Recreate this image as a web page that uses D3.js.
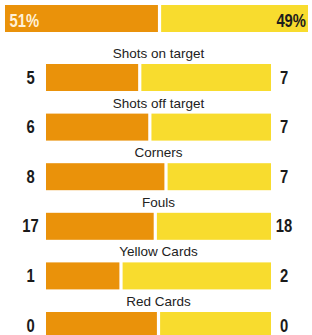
<!DOCTYPE html>
<html>
<head>
<meta charset="utf-8">
<script src="https://cdn.jsdelivr.net/npm/d3@7/dist/d3.min.js"></script>
<style>
  html, body { margin: 0; padding: 0; background: #ffffff; }
  svg { display: block; }
</style>
</head>
<body>
<script>
// ---- data ----
const possessionLabels = ["51%", "49%"];
const possession = [51, 49];
const categories = ["Shots on target", "Shots off target", "Corners", "Fouls", "Yellow Cards", "Red Cards"];
const homeValues = [5, 6, 8, 17, 1, 0];
const awayValues = [7, 7, 7, 18, 2, 0];

// ---- layout ----
const W = 312, H = 335;
const orange = "#EA920A", yellow = "#F8DC2E";
const numFont = "'Liberation Sans', Arial, sans-serif";
const lblFont = "'Liberation Sans', Arial, Helvetica, sans-serif";
const gap = 1.6;
const narrow = 0.8;

const svg = d3.select("body").append("svg").attr("width", W).attr("height", H);

function numText(parent, cx, by, anchor, fill, size) {
  return parent.append("g").attr("transform", `translate(${cx},${by}) scale(${narrow},1)`)
    .append("text").attr("x", 0).attr("y", 0).attr("text-anchor", anchor)
    .attr("font-family", numFont).attr("font-weight", "bold").attr("font-size", size).attr("fill", fill);
}

// possession bar
const px = d3.scaleLinear().domain([0, 100]).range([5, 308]);
const pTop = 5, pH = 27;
const pSplit = px(possession[0]);
svg.append("rect").attr("x", px(0)).attr("y", pTop).attr("width", pSplit - gap - px(0)).attr("height", pH).attr("fill", orange);
svg.append("rect").attr("x", pSplit + gap).attr("y", pTop).attr("width", px(100) - pSplit - gap).attr("height", pH).attr("fill", yellow);
numText(svg, 9.5, pTop + 21.5, "start", "#FFF1D8", 18.5).text(possessionLabels[0]);
numText(svg, 306, pTop + 21.5, "end", "#1d1d1d", 18.5).text(possessionLabels[1]);

// stat rows
const y = d3.scaleBand().domain(categories).range([38.5, 38.5 + categories.length * 49.6]).padding(0);
const x = d3.scaleLinear().domain([0, 1]).range([46, 271]);
const barH = 27;

const rowData = categories.map((c, i) => ({c, h: homeValues[i], a: awayValues[i]}));
const rows = svg.selectAll("g.row").data(rowData)
  .enter().append("g").attr("class", "row").attr("transform", d => `translate(0,${y(d.c)})`);

rows.append("text").attr("x", (x(0) + x(1)) / 2).attr("y", 19.5).attr("text-anchor", "middle")
  .attr("font-family", lblFont).attr("font-size", 13.5).attr("fill", "#222").text(d => d.c);

const frac = d => (d.h + d.a) === 0 ? 0.5 : d.h / (d.h + d.a);
rows.append("rect").attr("x", x(0)).attr("y", 25.5).attr("height", barH)
  .attr("width", d => x(frac(d)) - gap - x(0)).attr("fill", orange);
rows.append("rect").attr("x", d => x(frac(d)) + gap).attr("y", 25.5).attr("height", barH)
  .attr("width", d => x(1) - x(frac(d)) - gap).attr("fill", yellow);

rows.each(function(d) {
  const g = d3.select(this);
  numText(g, 30.5, 45, "middle", "#1a1a1a", 18.5).text(d.h);
  numText(g, 284, 45, "middle", "#1a1a1a", 18.5).text(d.a);
});
</script>
</body>
</html>
